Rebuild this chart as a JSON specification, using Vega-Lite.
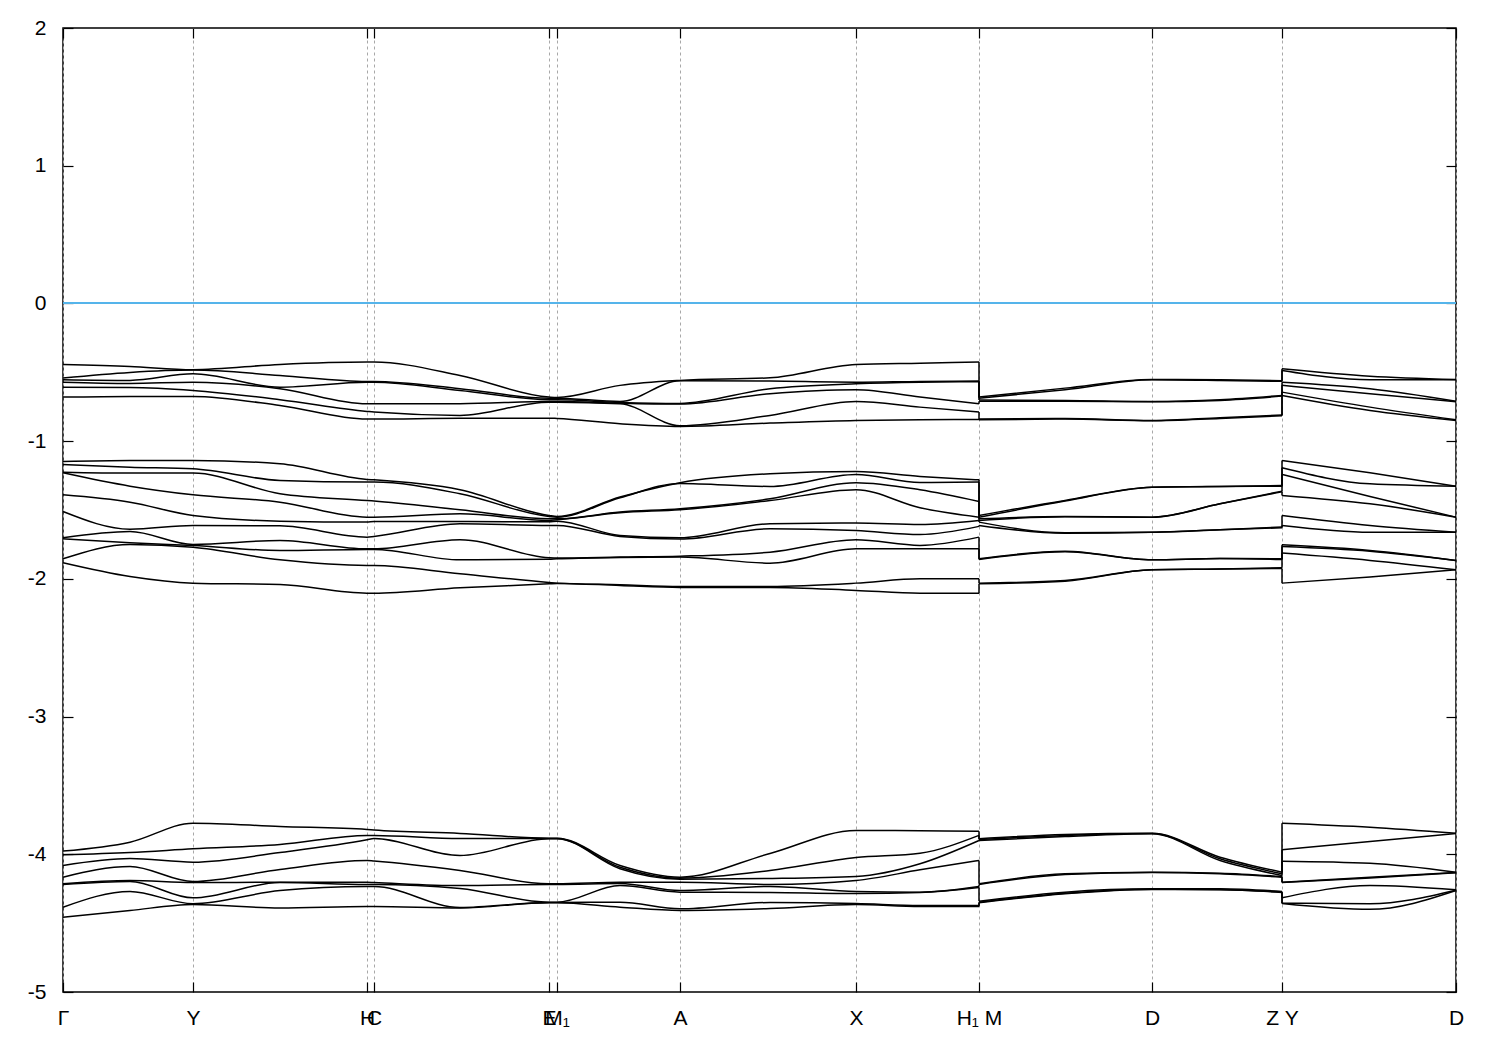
{
"$schema": "https://vega.github.io/schema/vega-lite/v6.json",
"width": 1393, "height": 964,
"autosize": {"type": "none"},
"padding": {"left": 63, "top": 28, "right": 44, "bottom": 58},
"background": "white",
"config": {"view": {"stroke": "black", "strokeWidth": 1.5}, "font": "Liberation Sans"},
"data": {"values": [
{"b":"t1","s":1,"k":0,"e":-0.443},{"b":"t1","s":1,"k":0.67,"e":-0.458},{"b":"t1","s":1,"k":1.3,"e":-0.481},{"b":"t1","s":1,"k":2.17,"e":-0.443},{"b":"t1","s":1,"k":3.04,"e":-0.426},{"b":"t1","s":1,"k":3.11,"e":-0.426},{"b":"t1","s":1,"k":3.97,"e":-0.523},{"b":"t1","s":1,"k":4.86,"e":-0.680},{"b":"t1","s":1,"k":4.94,"e":-0.683},{"b":"t1","s":1,"k":5.57,"e":-0.595},{"b":"t1","s":1,"k":6.17,"e":-0.559},{"b":"t1","s":1,"k":7.07,"e":-0.540},{"b":"t1","s":1,"k":7.93,"e":-0.443},{"b":"t1","s":1,"k":8.57,"e":-0.434},{"b":"t1","s":1,"k":9.16,"e":-0.426},{"b":"t1","s":2,"k":9.16,"e":-0.680},{"b":"t1","s":2,"k":10.02,"e":-0.615},{"b":"t1","s":2,"k":10.89,"e":-0.552},{"b":"t1","s":2,"k":11.57,"e":-0.554},{"b":"t1","s":2,"k":12.19,"e":-0.561},{"b":"t1","s":3,"k":12.19,"e":-0.474},{"b":"t1","s":3,"k":13.07,"e":-0.528},{"b":"t1","s":3,"k":13.93,"e":-0.552},
{"b":"t2","s":1,"k":0,"e":-0.542},{"b":"t2","s":1,"k":0.67,"e":-0.501},{"b":"t2","s":1,"k":1.3,"e":-0.484},{"b":"t2","s":1,"k":2.17,"e":-0.523},{"b":"t2","s":1,"k":3.04,"e":-0.566},{"b":"t2","s":1,"k":3.11,"e":-0.566},{"b":"t2","s":1,"k":3.97,"e":-0.619},{"b":"t2","s":1,"k":4.86,"e":-0.688},{"b":"t2","s":1,"k":4.94,"e":-0.688},{"b":"t2","s":1,"k":5.57,"e":-0.712},{"b":"t2","s":1,"k":6.17,"e":-0.561},{"b":"t2","s":1,"k":7.07,"e":-0.564},{"b":"t2","s":1,"k":7.93,"e":-0.572},{"b":"t2","s":1,"k":8.57,"e":-0.566},{"b":"t2","s":1,"k":9.16,"e":-0.564},{"b":"t2","s":2,"k":9.16,"e":-0.688},{"b":"t2","s":2,"k":10.02,"e":-0.627},{"b":"t2","s":2,"k":10.89,"e":-0.554},{"b":"t2","s":2,"k":11.57,"e":-0.559},{"b":"t2","s":2,"k":12.19,"e":-0.566},{"b":"t2","s":3,"k":12.19,"e":-0.487},{"b":"t2","s":3,"k":13.07,"e":-0.554},{"b":"t2","s":3,"k":13.93,"e":-0.554},
{"b":"t3","s":1,"k":0,"e":-0.554},{"b":"t3","s":1,"k":0.67,"e":-0.559},{"b":"t3","s":1,"k":1.3,"e":-0.511},{"b":"t3","s":1,"k":2.17,"e":-0.608},{"b":"t3","s":1,"k":3.04,"e":-0.572},{"b":"t3","s":1,"k":3.11,"e":-0.572},{"b":"t3","s":1,"k":3.97,"e":-0.632},{"b":"t3","s":1,"k":4.86,"e":-0.699},{"b":"t3","s":1,"k":4.94,"e":-0.699},{"b":"t3","s":1,"k":5.57,"e":-0.719},{"b":"t3","s":1,"k":6.17,"e":-0.726},{"b":"t3","s":1,"k":7.07,"e":-0.619},{"b":"t3","s":1,"k":7.93,"e":-0.583},{"b":"t3","s":1,"k":8.57,"e":-0.572},{"b":"t3","s":1,"k":9.16,"e":-0.569},{"b":"t3","s":2,"k":9.16,"e":-0.702},{"b":"t3","s":2,"k":10.02,"e":-0.704},{"b":"t3","s":2,"k":10.89,"e":-0.712},{"b":"t3","s":2,"k":11.57,"e":-0.699},{"b":"t3","s":2,"k":12.19,"e":-0.668},{"b":"t3","s":3,"k":12.19,"e":-0.572},{"b":"t3","s":3,"k":13.07,"e":-0.619},{"b":"t3","s":3,"k":13.93,"e":-0.710},
{"b":"t4","s":1,"k":0,"e":-0.572},{"b":"t4","s":1,"k":0.67,"e":-0.581},{"b":"t4","s":1,"k":1.3,"e":-0.572},{"b":"t4","s":1,"k":2.17,"e":-0.619},{"b":"t4","s":1,"k":3.04,"e":-0.728},{"b":"t4","s":1,"k":3.11,"e":-0.728},{"b":"t4","s":1,"k":3.97,"e":-0.728},{"b":"t4","s":1,"k":4.86,"e":-0.712},{"b":"t4","s":1,"k":4.94,"e":-0.712},{"b":"t4","s":1,"k":5.57,"e":-0.724},{"b":"t4","s":1,"k":6.17,"e":-0.731},{"b":"t4","s":1,"k":7.07,"e":-0.656},{"b":"t4","s":1,"k":7.93,"e":-0.627},{"b":"t4","s":1,"k":8.57,"e":-0.680},{"b":"t4","s":1,"k":9.16,"e":-0.728},{"b":"t4","s":2,"k":9.16,"e":-0.710},{"b":"t4","s":2,"k":10.02,"e":-0.710},{"b":"t4","s":2,"k":10.89,"e":-0.714},{"b":"t4","s":2,"k":11.57,"e":-0.704},{"b":"t4","s":2,"k":12.19,"e":-0.673},{"b":"t4","s":3,"k":12.19,"e":-0.595},{"b":"t4","s":3,"k":13.07,"e":-0.656},{"b":"t4","s":3,"k":13.93,"e":-0.714},
{"b":"t5","s":1,"k":0,"e":-0.608},{"b":"t5","s":1,"k":0.67,"e":-0.610},{"b":"t5","s":1,"k":1.3,"e":-0.632},{"b":"t5","s":1,"k":2.17,"e":-0.699},{"b":"t5","s":1,"k":3.04,"e":-0.784},{"b":"t5","s":1,"k":3.11,"e":-0.789},{"b":"t5","s":1,"k":3.97,"e":-0.813},{"b":"t5","s":1,"k":4.86,"e":-0.717},{"b":"t5","s":1,"k":4.94,"e":-0.717},{"b":"t5","s":1,"k":5.57,"e":-0.728},{"b":"t5","s":1,"k":6.17,"e":-0.888},{"b":"t5","s":1,"k":7.07,"e":-0.813},{"b":"t5","s":1,"k":7.93,"e":-0.712},{"b":"t5","s":1,"k":8.57,"e":-0.753},{"b":"t5","s":1,"k":9.16,"e":-0.789},{"b":"t5","s":2,"k":9.16,"e":-0.840},{"b":"t5","s":2,"k":10.02,"e":-0.835},{"b":"t5","s":2,"k":10.89,"e":-0.850},{"b":"t5","s":2,"k":11.57,"e":-0.830},{"b":"t5","s":2,"k":12.19,"e":-0.811},{"b":"t5","s":3,"k":12.19,"e":-0.644},{"b":"t5","s":3,"k":13.07,"e":-0.753},{"b":"t5","s":3,"k":13.93,"e":-0.845},
{"b":"t6","s":1,"k":0,"e":-0.680},{"b":"t6","s":1,"k":0.67,"e":-0.675},{"b":"t6","s":1,"k":1.3,"e":-0.675},{"b":"t6","s":1,"k":2.17,"e":-0.741},{"b":"t6","s":1,"k":3.04,"e":-0.840},{"b":"t6","s":1,"k":3.11,"e":-0.840},{"b":"t6","s":1,"k":3.97,"e":-0.833},{"b":"t6","s":1,"k":4.86,"e":-0.833},{"b":"t6","s":1,"k":4.94,"e":-0.835},{"b":"t6","s":1,"k":5.57,"e":-0.874},{"b":"t6","s":1,"k":6.17,"e":-0.893},{"b":"t6","s":1,"k":7.07,"e":-0.869},{"b":"t6","s":1,"k":7.93,"e":-0.850},{"b":"t6","s":1,"k":8.57,"e":-0.845},{"b":"t6","s":1,"k":9.16,"e":-0.842},{"b":"t6","s":2,"k":9.16,"e":-0.845},{"b":"t6","s":2,"k":10.02,"e":-0.840},{"b":"t6","s":2,"k":10.89,"e":-0.852},{"b":"t6","s":2,"k":11.57,"e":-0.835},{"b":"t6","s":2,"k":12.19,"e":-0.816},{"b":"t6","s":3,"k":12.19,"e":-0.668},{"b":"t6","s":3,"k":13.07,"e":-0.777},{"b":"t6","s":3,"k":13.93,"e":-0.850},
{"b":"m1","s":1,"k":0,"e":-1.147},{"b":"m1","s":1,"k":0.67,"e":-1.140},{"b":"m1","s":1,"k":1.3,"e":-1.140},{"b":"m1","s":1,"k":2.17,"e":-1.164},{"b":"m1","s":1,"k":3.04,"e":-1.278},{"b":"m1","s":1,"k":3.11,"e":-1.281},{"b":"m1","s":1,"k":3.97,"e":-1.353},{"b":"m1","s":1,"k":4.86,"e":-1.540},{"b":"m1","s":1,"k":4.94,"e":-1.547},{"b":"m1","s":1,"k":5.57,"e":-1.406},{"b":"m1","s":1,"k":6.17,"e":-1.302},{"b":"m1","s":1,"k":7.07,"e":-1.237},{"b":"m1","s":1,"k":7.93,"e":-1.220},{"b":"m1","s":1,"k":8.57,"e":-1.256},{"b":"m1","s":1,"k":9.16,"e":-1.281},{"b":"m1","s":2,"k":9.16,"e":-1.540},{"b":"m1","s":2,"k":10.02,"e":-1.431},{"b":"m1","s":2,"k":10.89,"e":-1.334},{"b":"m1","s":2,"k":11.57,"e":-1.329},{"b":"m1","s":2,"k":12.19,"e":-1.322},{"b":"m1","s":3,"k":12.19,"e":-1.140},{"b":"m1","s":3,"k":13.07,"e":-1.230},{"b":"m1","s":3,"k":13.93,"e":-1.327},
{"b":"m2","s":1,"k":0,"e":-1.169},{"b":"m2","s":1,"k":0.67,"e":-1.189},{"b":"m2","s":1,"k":1.3,"e":-1.201},{"b":"m2","s":1,"k":2.17,"e":-1.285},{"b":"m2","s":1,"k":3.04,"e":-1.297},{"b":"m2","s":1,"k":3.11,"e":-1.297},{"b":"m2","s":1,"k":3.97,"e":-1.382},{"b":"m2","s":1,"k":4.86,"e":-1.547},{"b":"m2","s":1,"k":4.94,"e":-1.552},{"b":"m2","s":1,"k":5.57,"e":-1.411},{"b":"m2","s":1,"k":6.17,"e":-1.307},{"b":"m2","s":1,"k":7.07,"e":-1.329},{"b":"m2","s":1,"k":7.93,"e":-1.242},{"b":"m2","s":1,"k":8.57,"e":-1.300},{"b":"m2","s":1,"k":9.16,"e":-1.297},{"b":"m2","s":2,"k":9.16,"e":-1.552},{"b":"m2","s":2,"k":10.02,"e":-1.435},{"b":"m2","s":2,"k":10.89,"e":-1.334},{"b":"m2","s":2,"k":11.57,"e":-1.329},{"b":"m2","s":2,"k":12.19,"e":-1.327},{"b":"m2","s":3,"k":12.19,"e":-1.193},{"b":"m2","s":3,"k":13.07,"e":-1.310},{"b":"m2","s":3,"k":13.93,"e":-1.327},
{"b":"m3","s":1,"k":0,"e":-1.225},{"b":"m3","s":1,"k":0.67,"e":-1.232},{"b":"m3","s":1,"k":1.3,"e":-1.232},{"b":"m3","s":1,"k":2.17,"e":-1.382},{"b":"m3","s":1,"k":3.04,"e":-1.431},{"b":"m3","s":1,"k":3.11,"e":-1.435},{"b":"m3","s":1,"k":3.97,"e":-1.498},{"b":"m3","s":1,"k":4.86,"e":-1.564},{"b":"m3","s":1,"k":4.94,"e":-1.564},{"b":"m3","s":1,"k":5.57,"e":-1.515},{"b":"m3","s":1,"k":6.17,"e":-1.491},{"b":"m3","s":1,"k":7.07,"e":-1.419},{"b":"m3","s":1,"k":7.93,"e":-1.302},{"b":"m3","s":1,"k":8.57,"e":-1.353},{"b":"m3","s":1,"k":9.16,"e":-1.438},{"b":"m3","s":2,"k":9.16,"e":-1.564},{"b":"m3","s":2,"k":10.02,"e":-1.547},{"b":"m3","s":2,"k":10.89,"e":-1.552},{"b":"m3","s":2,"k":11.57,"e":-1.455},{"b":"m3","s":2,"k":12.19,"e":-1.363},{"b":"m3","s":3,"k":12.19,"e":-1.242},{"b":"m3","s":3,"k":13.07,"e":-1.402},{"b":"m3","s":3,"k":13.93,"e":-1.552},
{"b":"m4","s":1,"k":0,"e":-1.230},{"b":"m4","s":1,"k":0.67,"e":-1.327},{"b":"m4","s":1,"k":1.3,"e":-1.390},{"b":"m4","s":1,"k":2.17,"e":-1.443},{"b":"m4","s":1,"k":3.04,"e":-1.552},{"b":"m4","s":1,"k":3.11,"e":-1.552},{"b":"m4","s":1,"k":3.97,"e":-1.528},{"b":"m4","s":1,"k":4.86,"e":-1.576},{"b":"m4","s":1,"k":4.94,"e":-1.571},{"b":"m4","s":1,"k":5.57,"e":-1.520},{"b":"m4","s":1,"k":6.17,"e":-1.498},{"b":"m4","s":1,"k":7.07,"e":-1.431},{"b":"m4","s":1,"k":7.93,"e":-1.353},{"b":"m4","s":1,"k":8.57,"e":-1.484},{"b":"m4","s":1,"k":9.16,"e":-1.552},{"b":"m4","s":2,"k":9.16,"e":-1.576},{"b":"m4","s":2,"k":10.02,"e":-1.549},{"b":"m4","s":2,"k":10.89,"e":-1.552},{"b":"m4","s":2,"k":11.57,"e":-1.455},{"b":"m4","s":2,"k":12.19,"e":-1.368},{"b":"m4","s":3,"k":12.19,"e":-1.394},{"b":"m4","s":3,"k":13.07,"e":-1.455},{"b":"m4","s":3,"k":13.93,"e":-1.552},
{"b":"m5","s":1,"k":0,"e":-1.390},{"b":"m5","s":1,"k":0.67,"e":-1.443},{"b":"m5","s":1,"k":1.3,"e":-1.540},{"b":"m5","s":1,"k":2.17,"e":-1.581},{"b":"m5","s":1,"k":3.04,"e":-1.588},{"b":"m5","s":1,"k":3.11,"e":-1.583},{"b":"m5","s":1,"k":3.97,"e":-1.583},{"b":"m5","s":1,"k":4.86,"e":-1.586},{"b":"m5","s":1,"k":4.94,"e":-1.581},{"b":"m5","s":1,"k":5.57,"e":-1.685},{"b":"m5","s":1,"k":6.17,"e":-1.702},{"b":"m5","s":1,"k":7.07,"e":-1.600},{"b":"m5","s":1,"k":7.93,"e":-1.595},{"b":"m5","s":1,"k":8.57,"e":-1.605},{"b":"m5","s":1,"k":9.16,"e":-1.576},{"b":"m5","s":2,"k":9.16,"e":-1.588},{"b":"m5","s":2,"k":10.02,"e":-1.665},{"b":"m5","s":2,"k":10.89,"e":-1.661},{"b":"m5","s":2,"k":11.57,"e":-1.644},{"b":"m5","s":2,"k":12.19,"e":-1.624},{"b":"m5","s":3,"k":12.19,"e":-1.540},{"b":"m5","s":3,"k":13.07,"e":-1.612},{"b":"m5","s":3,"k":13.93,"e":-1.661},
{"b":"m6","s":1,"k":0,"e":-1.511},{"b":"m6","s":1,"k":0.67,"e":-1.639},{"b":"m6","s":1,"k":1.3,"e":-1.612},{"b":"m6","s":1,"k":2.17,"e":-1.615},{"b":"m6","s":1,"k":3.04,"e":-1.697},{"b":"m6","s":1,"k":3.11,"e":-1.692},{"b":"m6","s":1,"k":3.97,"e":-1.600},{"b":"m6","s":1,"k":4.86,"e":-1.612},{"b":"m6","s":1,"k":4.94,"e":-1.612},{"b":"m6","s":1,"k":5.57,"e":-1.692},{"b":"m6","s":1,"k":6.17,"e":-1.711},{"b":"m6","s":1,"k":7.07,"e":-1.636},{"b":"m6","s":1,"k":7.93,"e":-1.649},{"b":"m6","s":1,"k":8.57,"e":-1.678},{"b":"m6","s":1,"k":9.16,"e":-1.619},{"b":"m6","s":2,"k":9.16,"e":-1.612},{"b":"m6","s":2,"k":10.02,"e":-1.668},{"b":"m6","s":2,"k":10.89,"e":-1.661},{"b":"m6","s":2,"k":11.57,"e":-1.644},{"b":"m6","s":2,"k":12.19,"e":-1.629},{"b":"m6","s":3,"k":12.19,"e":-1.612},{"b":"m6","s":3,"k":13.07,"e":-1.661},{"b":"m6","s":3,"k":13.93,"e":-1.661},
{"b":"m7","s":1,"k":0,"e":-1.702},{"b":"m7","s":1,"k":0.67,"e":-1.656},{"b":"m7","s":1,"k":1.3,"e":-1.750},{"b":"m7","s":1,"k":2.17,"e":-1.721},{"b":"m7","s":1,"k":3.04,"e":-1.782},{"b":"m7","s":1,"k":3.11,"e":-1.782},{"b":"m7","s":1,"k":3.97,"e":-1.716},{"b":"m7","s":1,"k":4.86,"e":-1.847},{"b":"m7","s":1,"k":4.94,"e":-1.849},{"b":"m7","s":1,"k":5.57,"e":-1.842},{"b":"m7","s":1,"k":6.17,"e":-1.835},{"b":"m7","s":1,"k":7.07,"e":-1.806},{"b":"m7","s":1,"k":7.93,"e":-1.716},{"b":"m7","s":1,"k":8.57,"e":-1.757},{"b":"m7","s":1,"k":9.16,"e":-1.697},{"b":"m7","s":2,"k":9.16,"e":-1.854},{"b":"m7","s":2,"k":10.02,"e":-1.799},{"b":"m7","s":2,"k":10.89,"e":-1.862},{"b":"m7","s":2,"k":11.57,"e":-1.852},{"b":"m7","s":2,"k":12.19,"e":-1.854},{"b":"m7","s":3,"k":12.19,"e":-1.753},{"b":"m7","s":3,"k":13.07,"e":-1.794},{"b":"m7","s":3,"k":13.93,"e":-1.866},
{"b":"m8","s":1,"k":0,"e":-1.709},{"b":"m8","s":1,"k":0.67,"e":-1.738},{"b":"m8","s":1,"k":1.3,"e":-1.757},{"b":"m8","s":1,"k":2.17,"e":-1.794},{"b":"m8","s":1,"k":3.04,"e":-1.786},{"b":"m8","s":1,"k":3.11,"e":-1.786},{"b":"m8","s":1,"k":3.97,"e":-1.862},{"b":"m8","s":1,"k":4.86,"e":-1.857},{"b":"m8","s":1,"k":4.94,"e":-1.854},{"b":"m8","s":1,"k":5.57,"e":-1.845},{"b":"m8","s":1,"k":6.17,"e":-1.842},{"b":"m8","s":1,"k":7.07,"e":-1.886},{"b":"m8","s":1,"k":7.93,"e":-1.782},{"b":"m8","s":1,"k":8.57,"e":-1.782},{"b":"m8","s":1,"k":9.16,"e":-1.782},{"b":"m8","s":2,"k":9.16,"e":-1.859},{"b":"m8","s":2,"k":10.02,"e":-1.803},{"b":"m8","s":2,"k":10.89,"e":-1.862},{"b":"m8","s":2,"k":11.57,"e":-1.852},{"b":"m8","s":2,"k":12.19,"e":-1.859},{"b":"m8","s":3,"k":12.19,"e":-1.765},{"b":"m8","s":3,"k":13.07,"e":-1.799},{"b":"m8","s":3,"k":13.93,"e":-1.866},
{"b":"m9","s":1,"k":0,"e":-1.854},{"b":"m9","s":1,"k":0.67,"e":-1.750},{"b":"m9","s":1,"k":1.3,"e":-1.770},{"b":"m9","s":1,"k":2.17,"e":-1.862},{"b":"m9","s":1,"k":3.04,"e":-1.903},{"b":"m9","s":1,"k":3.11,"e":-1.903},{"b":"m9","s":1,"k":3.97,"e":-1.963},{"b":"m9","s":1,"k":4.86,"e":-2.026},{"b":"m9","s":1,"k":4.94,"e":-2.031},{"b":"m9","s":1,"k":5.57,"e":-2.043},{"b":"m9","s":1,"k":6.17,"e":-2.055},{"b":"m9","s":1,"k":7.07,"e":-2.055},{"b":"m9","s":1,"k":7.93,"e":-2.031},{"b":"m9","s":1,"k":8.57,"e":-1.999},{"b":"m9","s":1,"k":9.16,"e":-1.999},{"b":"m9","s":2,"k":9.16,"e":-2.031},{"b":"m9","s":2,"k":10.02,"e":-2.012},{"b":"m9","s":2,"k":10.89,"e":-1.934},{"b":"m9","s":2,"k":11.57,"e":-1.929},{"b":"m9","s":2,"k":12.19,"e":-1.920},{"b":"m9","s":3,"k":12.19,"e":-1.813},{"b":"m9","s":3,"k":13.07,"e":-1.866},{"b":"m9","s":3,"k":13.93,"e":-1.934},
{"b":"m10","s":1,"k":0,"e":-1.883},{"b":"m10","s":1,"k":0.67,"e":-1.983},{"b":"m10","s":1,"k":1.3,"e":-2.031},{"b":"m10","s":1,"k":2.17,"e":-2.041},{"b":"m10","s":1,"k":3.04,"e":-2.104},{"b":"m10","s":1,"k":3.11,"e":-2.104},{"b":"m10","s":1,"k":3.97,"e":-2.065},{"b":"m10","s":1,"k":4.86,"e":-2.036},{"b":"m10","s":1,"k":4.94,"e":-2.033},{"b":"m10","s":1,"k":5.57,"e":-2.048},{"b":"m10","s":1,"k":6.17,"e":-2.062},{"b":"m10","s":1,"k":7.07,"e":-2.062},{"b":"m10","s":1,"k":7.93,"e":-2.084},{"b":"m10","s":1,"k":8.57,"e":-2.104},{"b":"m10","s":1,"k":9.16,"e":-2.104},{"b":"m10","s":2,"k":9.16,"e":-2.036},{"b":"m10","s":2,"k":10.02,"e":-2.017},{"b":"m10","s":2,"k":10.89,"e":-1.934},{"b":"m10","s":2,"k":11.57,"e":-1.929},{"b":"m10","s":2,"k":12.19,"e":-1.924},{"b":"m10","s":3,"k":12.19,"e":-2.031},{"b":"m10","s":3,"k":13.07,"e":-1.987},{"b":"m10","s":3,"k":13.93,"e":-1.934},
{"b":"u1","s":1,"k":0,"e":-3.977},{"b":"u1","s":1,"k":0.67,"e":-3.912},{"b":"u1","s":1,"k":1.3,"e":-3.774},{"b":"u1","s":1,"k":2.17,"e":-3.798},{"b":"u1","s":1,"k":3.04,"e":-3.820},{"b":"u1","s":1,"k":3.11,"e":-3.824},{"b":"u1","s":1,"k":3.97,"e":-3.849},{"b":"u1","s":1,"k":4.86,"e":-3.883},{"b":"u1","s":1,"k":4.94,"e":-3.883},{"b":"u1","s":1,"k":5.57,"e":-4.081},{"b":"u1","s":1,"k":6.17,"e":-4.166},{"b":"u1","s":1,"k":7.07,"e":-3.994},{"b":"u1","s":1,"k":7.93,"e":-3.827},{"b":"u1","s":1,"k":8.57,"e":-3.829},{"b":"u1","s":1,"k":9.16,"e":-3.832},{"b":"u1","s":2,"k":9.16,"e":-3.887},{"b":"u1","s":2,"k":10.02,"e":-3.856},{"b":"u1","s":2,"k":10.89,"e":-3.847},{"b":"u1","s":2,"k":11.57,"e":-4.021},{"b":"u1","s":2,"k":12.19,"e":-4.130},{"b":"u1","s":3,"k":12.19,"e":-3.774},{"b":"u1","s":3,"k":13.07,"e":-3.803},{"b":"u1","s":3,"k":13.93,"e":-3.847},
{"b":"u2","s":1,"k":0,"e":-4.004},{"b":"u2","s":1,"k":0.67,"e":-3.987},{"b":"u2","s":1,"k":1.3,"e":-3.960},{"b":"u2","s":1,"k":2.17,"e":-3.929},{"b":"u2","s":1,"k":3.04,"e":-3.863},{"b":"u2","s":1,"k":3.11,"e":-3.863},{"b":"u2","s":1,"k":3.97,"e":-3.885},{"b":"u2","s":1,"k":4.86,"e":-3.885},{"b":"u2","s":1,"k":4.94,"e":-3.885},{"b":"u2","s":1,"k":5.57,"e":-4.094},{"b":"u2","s":1,"k":6.17,"e":-4.174},{"b":"u2","s":1,"k":7.07,"e":-4.118},{"b":"u2","s":1,"k":7.93,"e":-4.023},{"b":"u2","s":1,"k":8.57,"e":-3.992},{"b":"u2","s":1,"k":9.16,"e":-3.863},{"b":"u2","s":2,"k":9.16,"e":-3.893},{"b":"u2","s":2,"k":10.02,"e":-3.863},{"b":"u2","s":2,"k":10.89,"e":-3.849},{"b":"u2","s":2,"k":11.57,"e":-4.033},{"b":"u2","s":2,"k":12.19,"e":-4.142},{"b":"u2","s":3,"k":12.19,"e":-3.967},{"b":"u2","s":3,"k":13.07,"e":-3.907},{"b":"u2","s":3,"k":13.93,"e":-3.849},
{"b":"u3","s":1,"k":0,"e":-4.081},{"b":"u3","s":1,"k":0.67,"e":-4.031},{"b":"u3","s":1,"k":1.3,"e":-4.057},{"b":"u3","s":1,"k":2.17,"e":-3.987},{"b":"u3","s":1,"k":3.04,"e":-3.895},{"b":"u3","s":1,"k":3.11,"e":-3.885},{"b":"u3","s":1,"k":3.97,"e":-4.009},{"b":"u3","s":1,"k":4.86,"e":-3.887},{"b":"u3","s":1,"k":4.94,"e":-3.887},{"b":"u3","s":1,"k":5.57,"e":-4.105},{"b":"u3","s":1,"k":6.17,"e":-4.181},{"b":"u3","s":1,"k":7.07,"e":-4.176},{"b":"u3","s":1,"k":7.93,"e":-4.161},{"b":"u3","s":1,"k":8.57,"e":-4.069},{"b":"u3","s":1,"k":9.16,"e":-3.900},{"b":"u3","s":2,"k":9.16,"e":-3.900},{"b":"u3","s":2,"k":10.02,"e":-3.871},{"b":"u3","s":2,"k":10.89,"e":-3.851},{"b":"u3","s":2,"k":11.57,"e":-4.045},{"b":"u3","s":2,"k":12.19,"e":-4.154},{"b":"u3","s":3,"k":12.19,"e":-4.050},{"b":"u3","s":3,"k":13.07,"e":-4.065},{"b":"u3","s":3,"k":13.93,"e":-4.130},
{"b":"u4","s":1,"k":0,"e":-4.166},{"b":"u4","s":1,"k":0.67,"e":-4.089},{"b":"u4","s":1,"k":1.3,"e":-4.198},{"b":"u4","s":1,"k":2.17,"e":-4.110},{"b":"u4","s":1,"k":3.04,"e":-4.045},{"b":"u4","s":1,"k":3.11,"e":-4.049},{"b":"u4","s":1,"k":3.97,"e":-4.118},{"b":"u4","s":1,"k":4.86,"e":-4.214},{"b":"u4","s":1,"k":4.94,"e":-4.214},{"b":"u4","s":1,"k":5.57,"e":-4.203},{"b":"u4","s":1,"k":6.17,"e":-4.203},{"b":"u4","s":1,"k":7.07,"e":-4.219},{"b":"u4","s":1,"k":7.93,"e":-4.190},{"b":"u4","s":1,"k":8.57,"e":-4.113},{"b":"u4","s":1,"k":9.16,"e":-4.045},{"b":"u4","s":2,"k":9.16,"e":-4.214},{"b":"u4","s":2,"k":10.02,"e":-4.142},{"b":"u4","s":2,"k":10.89,"e":-4.130},{"b":"u4","s":2,"k":11.57,"e":-4.137},{"b":"u4","s":2,"k":12.19,"e":-4.161},{"b":"u4","s":3,"k":12.19,"e":-4.203},{"b":"u4","s":3,"k":13.07,"e":-4.166},{"b":"u4","s":3,"k":13.93,"e":-4.132},
{"b":"u5","s":1,"k":0,"e":-4.214},{"b":"u5","s":1,"k":0.67,"e":-4.190},{"b":"u5","s":1,"k":1.3,"e":-4.205},{"b":"u5","s":1,"k":2.17,"e":-4.203},{"b":"u5","s":1,"k":3.04,"e":-4.203},{"b":"u5","s":1,"k":3.11,"e":-4.205},{"b":"u5","s":1,"k":3.97,"e":-4.227},{"b":"u5","s":1,"k":4.86,"e":-4.219},{"b":"u5","s":1,"k":4.94,"e":-4.219},{"b":"u5","s":1,"k":5.57,"e":-4.212},{"b":"u5","s":1,"k":6.17,"e":-4.263},{"b":"u5","s":1,"k":7.07,"e":-4.234},{"b":"u5","s":1,"k":7.93,"e":-4.270},{"b":"u5","s":1,"k":8.57,"e":-4.275},{"b":"u5","s":1,"k":9.16,"e":-4.234},{"b":"u5","s":2,"k":9.16,"e":-4.219},{"b":"u5","s":2,"k":10.02,"e":-4.147},{"b":"u5","s":2,"k":10.89,"e":-4.132},{"b":"u5","s":2,"k":11.57,"e":-4.142},{"b":"u5","s":2,"k":12.19,"e":-4.166},{"b":"u5","s":3,"k":12.19,"e":-4.205},{"b":"u5","s":3,"k":13.07,"e":-4.172},{"b":"u5","s":3,"k":13.93,"e":-4.134},
{"b":"u6","s":1,"k":0,"e":-4.219},{"b":"u6","s":1,"k":0.67,"e":-4.198},{"b":"u6","s":1,"k":1.3,"e":-4.316},{"b":"u6","s":1,"k":2.17,"e":-4.205},{"b":"u6","s":1,"k":3.04,"e":-4.219},{"b":"u6","s":1,"k":3.11,"e":-4.219},{"b":"u6","s":1,"k":3.97,"e":-4.248},{"b":"u6","s":1,"k":4.86,"e":-4.348},{"b":"u6","s":1,"k":4.94,"e":-4.348},{"b":"u6","s":1,"k":5.57,"e":-4.227},{"b":"u6","s":1,"k":6.17,"e":-4.275},{"b":"u6","s":1,"k":7.07,"e":-4.277},{"b":"u6","s":1,"k":7.93,"e":-4.285},{"b":"u6","s":1,"k":8.57,"e":-4.277},{"b":"u6","s":1,"k":9.16,"e":-4.241},{"b":"u6","s":2,"k":9.16,"e":-4.341},{"b":"u6","s":2,"k":10.02,"e":-4.275},{"b":"u6","s":2,"k":10.89,"e":-4.251},{"b":"u6","s":2,"k":11.57,"e":-4.251},{"b":"u6","s":2,"k":12.19,"e":-4.270},{"b":"u6","s":3,"k":12.19,"e":-4.316},{"b":"u6","s":3,"k":13.07,"e":-4.227},{"b":"u6","s":3,"k":13.93,"e":-4.258},
{"b":"u7","s":1,"k":0,"e":-4.384},{"b":"u7","s":1,"k":0.67,"e":-4.270},{"b":"u7","s":1,"k":1.3,"e":-4.359},{"b":"u7","s":1,"k":2.17,"e":-4.263},{"b":"u7","s":1,"k":3.04,"e":-4.234},{"b":"u7","s":1,"k":3.11,"e":-4.234},{"b":"u7","s":1,"k":3.97,"e":-4.386},{"b":"u7","s":1,"k":4.86,"e":-4.350},{"b":"u7","s":1,"k":4.94,"e":-4.350},{"b":"u7","s":1,"k":5.57,"e":-4.348},{"b":"u7","s":1,"k":6.17,"e":-4.396},{"b":"u7","s":1,"k":7.07,"e":-4.350},{"b":"u7","s":1,"k":7.93,"e":-4.357},{"b":"u7","s":1,"k":8.57,"e":-4.372},{"b":"u7","s":1,"k":9.16,"e":-4.372},{"b":"u7","s":2,"k":9.16,"e":-4.348},{"b":"u7","s":2,"k":10.02,"e":-4.283},{"b":"u7","s":2,"k":10.89,"e":-4.253},{"b":"u7","s":2,"k":11.57,"e":-4.256},{"b":"u7","s":2,"k":12.19,"e":-4.275},{"b":"u7","s":3,"k":12.19,"e":-4.355},{"b":"u7","s":3,"k":13.07,"e":-4.359},{"b":"u7","s":3,"k":13.93,"e":-4.261},
{"b":"u8","s":1,"k":0,"e":-4.457},{"b":"u8","s":1,"k":0.67,"e":-4.408},{"b":"u8","s":1,"k":1.3,"e":-4.365},{"b":"u8","s":1,"k":2.17,"e":-4.390},{"b":"u8","s":1,"k":3.04,"e":-4.379},{"b":"u8","s":1,"k":3.11,"e":-4.379},{"b":"u8","s":1,"k":3.97,"e":-4.390},{"b":"u8","s":1,"k":4.86,"e":-4.352},{"b":"u8","s":1,"k":4.94,"e":-4.352},{"b":"u8","s":1,"k":5.57,"e":-4.384},{"b":"u8","s":1,"k":6.17,"e":-4.408},{"b":"u8","s":1,"k":7.07,"e":-4.394},{"b":"u8","s":1,"k":7.93,"e":-4.365},{"b":"u8","s":1,"k":8.57,"e":-4.379},{"b":"u8","s":1,"k":9.16,"e":-4.379},{"b":"u8","s":2,"k":9.16,"e":-4.352},{"b":"u8","s":2,"k":10.02,"e":-4.287},{"b":"u8","s":2,"k":10.89,"e":-4.256},{"b":"u8","s":2,"k":11.57,"e":-4.258},{"b":"u8","s":2,"k":12.19,"e":-4.277},{"b":"u8","s":3,"k":12.19,"e":-4.357},{"b":"u8","s":3,"k":13.07,"e":-4.400},{"b":"u8","s":3,"k":13.93,"e":-4.263}
]},
"resolve": {"axis": {"x": "independent", "y": "independent"}},
"layer": [
{"mark": {"type": "line", "color": "black", "strokeWidth": 1.5, "interpolate": "monotone"},
 "encoding": {
  "x": {"field": "k", "type": "quantitative", "scale": {"domain": [0, 13.93], "nice": false, "zero": false},
   "axis": {"orient": "bottom", "title": null, "domain": false, "values": [0, 1.3, 3.04, 3.11, 4.86, 4.94, 6.17, 7.93, 9.16, 10.89, 12.19, 13.93],
    "labelExpr": "datum.value == 0 ? 'Γ' : datum.value == 1.3 ? 'Y' : datum.value == 3.04 ? 'H' : datum.value == 3.11 ? 'C' : datum.value == 4.86 ? 'E' : datum.value == 4.94 ? 'M₁' : datum.value == 6.17 ? 'A' : datum.value == 7.93 ? 'X' : datum.value == 9.16 ? 'H₁ M' : datum.value == 10.89 ? 'D' : datum.value == 12.19 ? 'Z Y' : 'D'",
    "labelOverlap": false, "labelFlush": false, "labelBound": false, "labelFontSize": 21, "labelColor": "black", "labelFont": "Liberation Sans",
    "tickSize": -10, "tickColor": "black", "tickWidth": 1.2, "labelPadding": 25,
    "grid": true, "gridColor": "#a8a8a8", "gridDash": [3, 3], "gridWidth": 1}},
  "y": {"field": "e", "type": "quantitative", "scale": {"domain": [-5, 2], "nice": false, "zero": false},
   "axis": {"orient": "left", "title": null, "domain": false, "values": [-5, -4, -3, -2, -1, 0, 1, 2],
    "labelExpr": "datum.value < 0 ? '-' + (-datum.value) : '' + datum.value",
    "labelFontSize": 21, "labelColor": "black", "labelFont": "Liberation Sans", "labelFlush": false, "labelBound": false, "labelOverlap": false,
    "tickSize": -10, "tickColor": "black", "tickWidth": 1.2, "labelPadding": 27, "grid": false}},
  "detail": [{"field": "b"}, {"field": "s"}]
 }},
{"transform": [{"filter": {"field": "k", "oneOf": [9.16, 12.19]}}],
 "mark": {"type": "line", "color": "black", "strokeWidth": 1.5},
 "encoding": {
  "x": {"field": "k", "type": "quantitative", "axis": {"orient": "top", "title": null, "domain": false, "labels": false, "grid": false, "values": [0, 1.3, 3.04, 3.11, 4.86, 4.94, 6.17, 7.93, 9.16, 10.89, 12.19, 13.93], "tickSize": -10, "tickColor": "black", "tickWidth": 1.2}},
  "y": {"field": "e", "type": "quantitative", "axis": {"orient": "right", "title": null, "domain": false, "labels": false, "grid": false, "values": [-5, -4, -3, -2, -1, 0, 1, 2], "tickSize": -10, "tickColor": "black", "tickWidth": 1.2}},
  "detail": [{"field": "b"}, {"field": "k"}]
 }},
{"mark": {"type": "rule", "color": "#56B4E9", "strokeWidth": 1.2},
 "encoding": {"y": {"datum": 0, "type": "quantitative", "axis": null}}}
]
}
